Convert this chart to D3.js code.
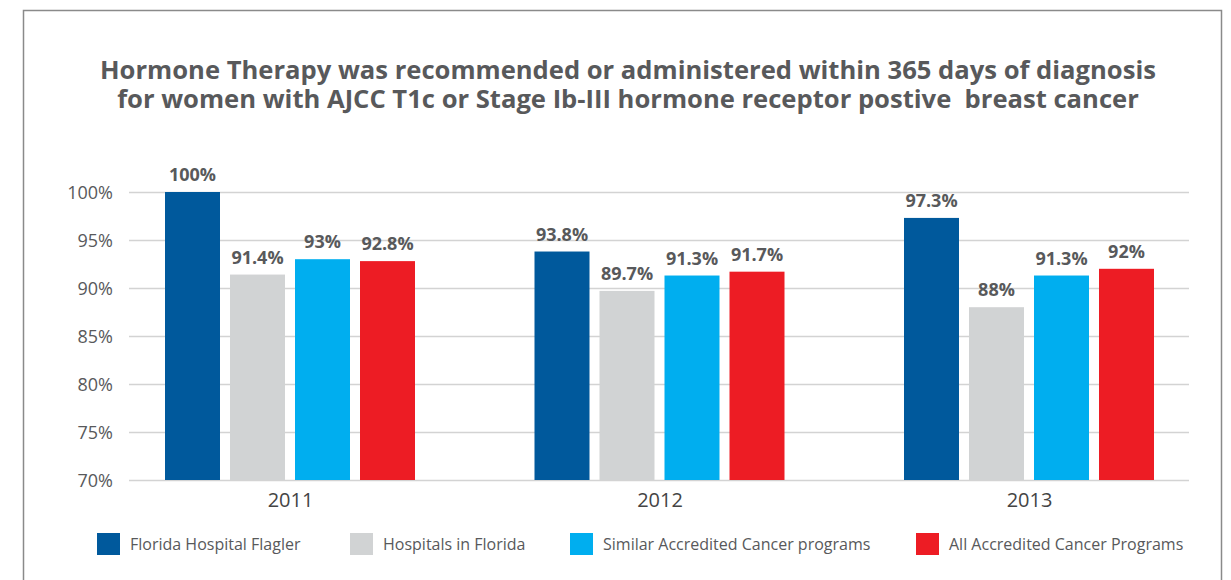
<!DOCTYPE html>
<html>
<head>
<meta charset="utf-8">
<script src="https://cdn.jsdelivr.net/npm/d3@7"></script>
<style>
  html, body { margin: 0; padding: 0; background: #fff; }
  svg { display: block; }
  text { font-family: "Open Sans", "Noto Sans", sans-serif; }
</style>
</head>
<body>
<svg id="chart" width="1231" height="580"></svg>
<script>
const titleLines = [
  "Hormone Therapy was recommended or administered within 365 days of diagnosis",
  "for women with AJCC T1c or Stage Ib-III hormone receptor postive  breast cancer"
];
const years = ["2011", "2012", "2013"];
const seriesNames = [
  "Florida Hospital Flagler",
  "Hospitals in Florida",
  "Similar Accredited Cancer programs",
  "All Accredited Cancer Programs"
];
const floridaHospitalFlagler = [100, 93.8, 97.3];
const hospitalsInFlorida = [91.4, 89.7, 88];
const similarAccredited = [93, 91.3, 91.3];
const allAccredited = [92.8, 91.7, 92];
const valueLabels = [
  ["100%", "93.8%", "97.3%"],
  ["91.4%", "89.7%", "88%"],
  ["93%", "91.3%", "91.3%"],
  ["92.8%", "91.7%", "92%"]
];
const yTicks = [70, 75, 80, 85, 90, 95, 100];
const colors = ["#00599c", "#d1d3d4", "#00aeef", "#ed1c24"];

const seriesValues = [floridaHospitalFlagler, hospitalsInFlorida, similarAccredited, allAccredited];

const svg = d3.select("#chart");
const textColor = "#58595b";

// frame
svg.append("path")
  .attr("d", "M23.5,600 V10.5 H1221.5 V600")
  .attr("fill", "none")
  .attr("stroke", "#8a8a8a")
  .attr("stroke-width", 1.5);

// title (one text element, two lines)
const title = svg.append("text")
  .attr("text-anchor", "middle")
  .attr("font-size", 25.6)
  .attr("font-weight", 700)
  .attr("fill", textColor)
  .style("white-space", "pre");
title.selectAll("tspan").data(titleLines).join("tspan")
  .attr("x", 628)
  .attr("y", (d, i) => 79 + i * 29)
  .text(d => d);

const plotLeft = 129, plotRight = 1189;
const y = d3.scaleLinear().domain([70, 100]).range([480, 192]);
const x0 = d3.scalePoint().domain(years).range([290, 1029]);
const x1 = d3.scaleBand().domain(d3.range(seriesNames.length)).range([-125, 125])
  .paddingInner(10 / 65).paddingOuter(0);

// y axis labels
const yAxis = d3.axisLeft(y).tickValues(yTicks).tickSize(0).tickPadding(0)
  .tickFormat(d => d + "%");
const gy = svg.append("g").attr("transform", `translate(${plotLeft - 16},0)`).call(yAxis);
gy.select(".domain").remove();
gy.selectAll("text").attr("font-size", 18).attr("fill", textColor)
  .attr("font-family", '"Open Sans", sans-serif').attr("dy", "0.36em");

// grid
svg.append("g").selectAll("line").data(yTicks).join("line")
  .attr("x1", plotLeft).attr("x2", plotRight)
  .attr("y1", d => y(d) + 0.5).attr("y2", d => y(d) + 0.5)
  .attr("stroke", "#d3d3d3").attr("stroke-width", 1.5);

// bars
const data = [];
seriesValues.forEach((vals, s) => vals.forEach((v, i) => data.push({s, year: years[i], v, label: valueLabels[s][i]})));

svg.append("g").selectAll("rect").data(data).join("rect")
  .attr("x", d => x0(d.year) + x1(d.s))
  .attr("width", x1.bandwidth())
  .attr("y", d => y(d.v))
  .attr("height", d => y(70) - y(d.v))
  .attr("fill", d => colors[d.s]);

svg.append("g").selectAll("text").data(data).join("text")
  .attr("x", d => x0(d.year) + x1(d.s) + x1.bandwidth() / 2)
  .attr("y", d => y(d.v) - 11)
  .attr("text-anchor", "middle")
  .attr("font-size", 18)
  .attr("font-weight", 700)
  .attr("fill", textColor)
  .text(d => d.label);

// x axis
const xAxis = d3.axisBottom(x0).tickSize(0).tickPadding(0);
const gx = svg.append("g").attr("transform", `translate(0,${y(70)})`).call(xAxis);
gx.select(".domain").remove();
gx.selectAll("text").attr("font-size", 20).attr("fill", "#444")
  .attr("font-family", '"Open Sans", sans-serif').attr("dy", "1.35em");

// legend
const legendX = [97, 350, 570, 916];
const lg = svg.append("g").selectAll("g").data(seriesNames).join("g")
  .attr("transform", (d, i) => `translate(${legendX[i]},533)`);
lg.append("rect").attr("width", 23).attr("height", 22).attr("fill", (d, i) => colors[i]);
lg.append("text").attr("x", 33).attr("y", 17).attr("font-size", 16)
  .attr("fill", textColor).text(d => d);
</script>
</body>
</html>
